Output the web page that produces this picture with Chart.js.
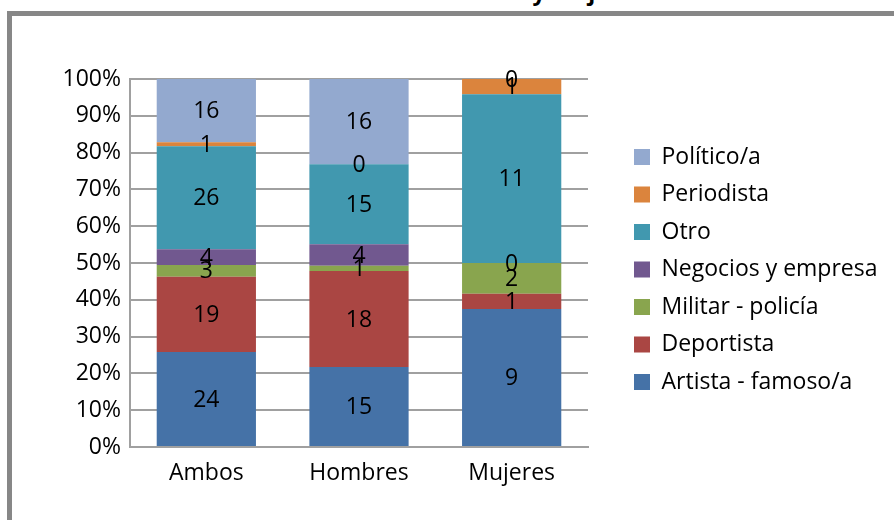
<!DOCTYPE html>
<html>
<head>
<meta charset="utf-8">
<script src="https://cdn.jsdelivr.net/npm/chart.js@4.4.0/dist/chart.umd.min.js"></script>
<style>
  body { margin: 0; width: 894px; height: 520px; overflow: hidden; position: relative; background: #fff; }
  #marco { position: absolute; left: 7px; top: 11px; width: 1000px; height: 1000px; border: 5px solid #878787; }
  #titulo { position: absolute; left: 0; top: -24px; width: 868px; text-align: center; white-space: nowrap;
            font: bold 23px "Open Sans", sans-serif; line-height: 30px; color: #000; }
  #caja { position: absolute; left: 0; top: 0; width: 894px; height: 520px; }
</style>
</head>
<body>
<div id="marco"></div>
<div id="titulo">Identificación en Hombres y Mujeres</div>
<div id="caja"><canvas id="grafico"></canvas></div>
<script>
// categorias y cantidades (se muestran como 100% apilado)
var categorias = ['Ambos', 'Hombres', 'Mujeres'];
var artista    = [24, 15, 9];
var deportista = [19, 18, 1];
var militar    = [3, 1, 2];
var negocios   = [4, 4, 0];
var otro       = [26, 15, 11];
var periodista = [1, 0, 1];
var politico   = [16, 16, 0];

var series = [
  { label: 'Artista - famoso/a', cuenta: artista, color: '#4572A7' },
  { label: 'Deportista', cuenta: deportista, color: '#AA4643' },
  { label: 'Militar - policía', cuenta: militar, color: '#89A54E' },
  { label: 'Negocios y empresa', cuenta: negocios, color: '#71588F' },
  { label: 'Otro', cuenta: otro, color: '#4198AF' },
  { label: 'Periodista', cuenta: periodista, color: '#DB843D' },
  { label: 'Político/a', cuenta: politico, color: '#93A9CF' }
];

// total por categoria
var totales = categorias.map(function(c, j) {
  var s = 0;
  series.forEach(function(item) { s += item.cuenta[j]; });
  return s;
});

var fuente = { family: 'Open Sans', size: 23 };

// etiquetas con la cantidad en el centro de cada tramo
var etiquetas = {
  id: 'etiquetas',
  afterDatasetsDraw: function(chart) {
    var ctx = chart.ctx;
    ctx.save();
    ctx.font = '23px "Open Sans"';
    ctx.fillStyle = '#000';
    ctx.textAlign = 'center';
    ctx.textBaseline = 'middle';
    chart.data.datasets.forEach(function(ds, i) {
      var meta = chart.getDatasetMeta(i);
      meta.data.forEach(function(bar, j) {
        ctx.fillText(ds.cuenta[j], bar.x, (bar.y + bar.base) / 2 + 1);
      });
    });
    ctx.restore();
  }
};

// la leyenda queda separada del area del grafico, como en Excel
var moverLeyenda = {
  id: 'moverLeyenda',
  afterLayout: function(chart) {
    var lg = chart.legend;
    lg.left = chart.chartArea.right + 31.5;
    lg.right = chart.width;
    lg.width = lg.right - lg.left;
    lg.top = chart.chartArea.top;
    lg.bottom = chart.height - 60;
    lg.height = lg.bottom - lg.top;
  }
};

var ctx = document.getElementById('grafico').getContext('2d');
var myChart = new Chart(ctx, {
  type: 'bar',
  data: {
    labels: categorias,
    datasets: series.map(function(item) {
      return {
        label: item.label,
        cuenta: item.cuenta,
        data: item.cuenta.map(function(v, j) { return v / totales[j] * 100; }),
        backgroundColor: item.color,
        borderWidth: 0,
        categoryPercentage: 0.65,
        barPercentage: 1
      };
    })
  },
  options: {
    responsive: true,
    maintainAspectRatio: false,
    animation: false,
    layout: { padding: { left: 30, top: 79, right: 120, bottom: 0 } },
    plugins: {
      title: { display: false },
      tooltip: { enabled: false },
      legend: {
        position: 'right',
        reverse: true,
        labels: { color: '#000', font: fuente, boxWidth: 16, boxHeight: 16, padding: 14.5 }
      }
    },
    scales: {
      x: {
        stacked: true,
        grid: { display: false, drawTicks: false },
        border: { color: '#a0a0a0', width: 2 },
        ticks: { color: '#000', font: fuente, padding: 13 },
        afterFit: function(s) { s.height = 73; }
      },
      y: {
        stacked: true,
        min: 0,
        max: 100,
        ticks: { stepSize: 10, color: '#000', font: fuente, padding: 9,
                 callback: function(v) { return v + '%'; } },
        grid: { color: '#a0a0a0', lineWidth: 2, drawTicks: false },
        border: { color: '#a0a0a0', width: 2 },
        afterFit: function(s) { s.width = 100; }
      }
    }
  },
  plugins: [etiquetas, moverLeyenda]
});
</script>
</body>
</html>
